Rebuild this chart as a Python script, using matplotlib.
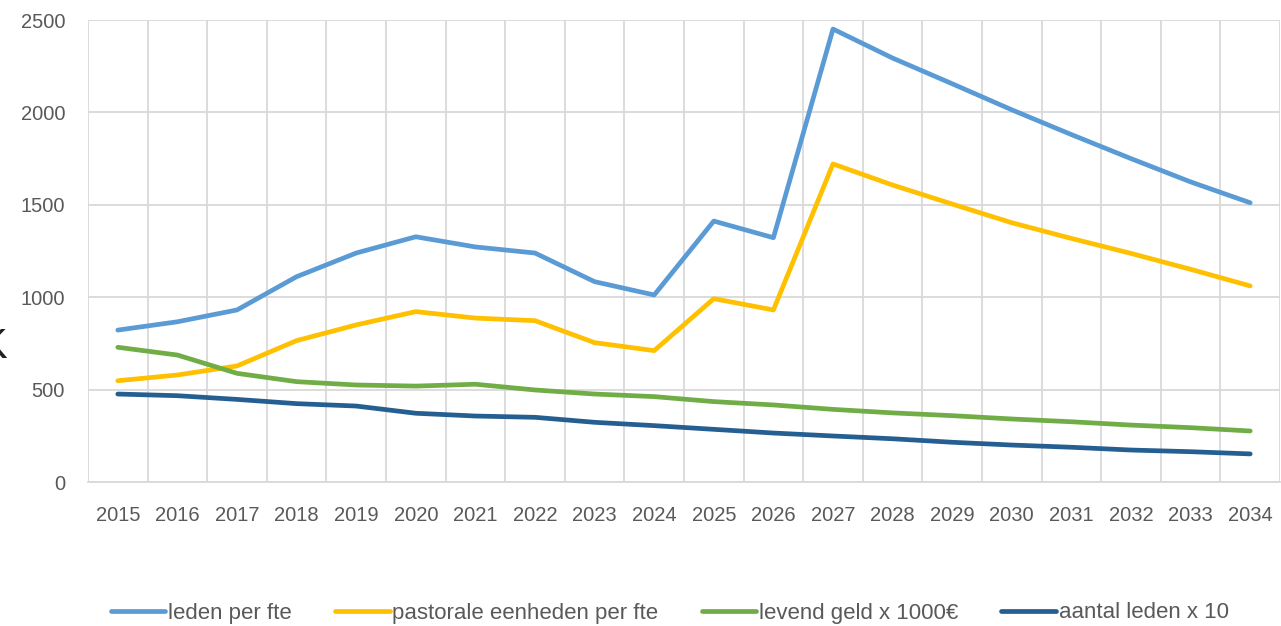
import matplotlib
matplotlib.use("Agg")
import matplotlib.pyplot as plt
import numpy as np

years = [str(y) for y in range(2015, 2035)]
leden_per_fte = [822, 867, 931, 1111, 1239, 1327, 1272, 1239, 1084, 1012,
                 1412, 1322, 2451, 2294, 2155, 2014, 1880, 1750, 1624, 1511]
pastorale_per_fte = [548, 579, 628, 765, 850, 922, 887, 873, 754, 711,
                     992, 931, 1721, 1607, 1504, 1403, 1318, 1237, 1151, 1061]
levend_geld = [729, 687, 588, 543, 525, 519, 529, 498, 476, 462,
               435, 417, 393, 374, 359, 341, 326, 308, 294, 276]
aantal_leden = [476, 467, 447, 424, 411, 372, 357, 350, 323, 305,
                285, 265, 249, 234, 215, 200, 188, 173, 164, 152]

series = [
    ("leden per fte", leden_per_fte, "#5B9BD5"),
    ("pastorale eenheden per fte", pastorale_per_fte, "#FFC000"),
    ("levend geld x 1000€", levend_geld, "#70AD47"),
    ("aantal leden x 10", aantal_leden, "#255E91"),
]
yticks = [0, 500, 1000, 1500, 2000, 2500]

plt.rcParams['font.family'] = ['Liberation Sans', 'DejaVu Sans']
fig = plt.figure(figsize=(12.81, 6.26), dpi=100)
ax = fig.add_axes([88/1281, 1-482/626, (1280-88)/1281, (482-20)/626])

x = np.arange(len(years))
for name, vals, col in series:
    ax.plot(x, vals, color=col, lw=3.4, label=name,
            solid_capstyle='round', solid_joinstyle='round')

ax.set_xlim(-0.5, len(years)-0.5)
ax.set_ylim(0, 2500)
ax.set_yticks(yticks)
ax.set_xticks(x)
ax.set_xticklabels(years)
ax.set_xticks(np.arange(-0.5, len(years)), minor=True)
ax.grid(False)
ax.yaxis.grid(True, color='#D9D9D9', lw=1.3)
ax.xaxis.grid(True, which='minor', color='#D9D9D9', lw=1.3)
ax.set_axisbelow(True)
for s in ['top', 'right', 'left']:
    ax.spines[s].set_visible(False)
ax.spines['bottom'].set_color('#D9D9D9')
ax.spines['bottom'].set_linewidth(1.3)
ax.tick_params(axis='both', which='both', length=0, labelsize=14.5, colors='#595959')
ax.tick_params(axis='y', pad=16.5)
ax.tick_params(axis='x', pad=17)

fig.text(7/1281, 1-347/626, 'K', ha='right', va='center', fontsize=30, color='#222222')

leg = fig.legend(loc='center left', bbox_to_anchor=(91/1281, 1-613/626), ncol=4, frameon=False,
                 fontsize=16, handlelength=2.45, columnspacing=1.95, handletextpad=0.12)
for t in leg.get_texts():
    t.set_color('#595959')
for h in leg.get_lines():
    h.set_linewidth(3.4)

fig.savefig('out.png', dpi=100)
